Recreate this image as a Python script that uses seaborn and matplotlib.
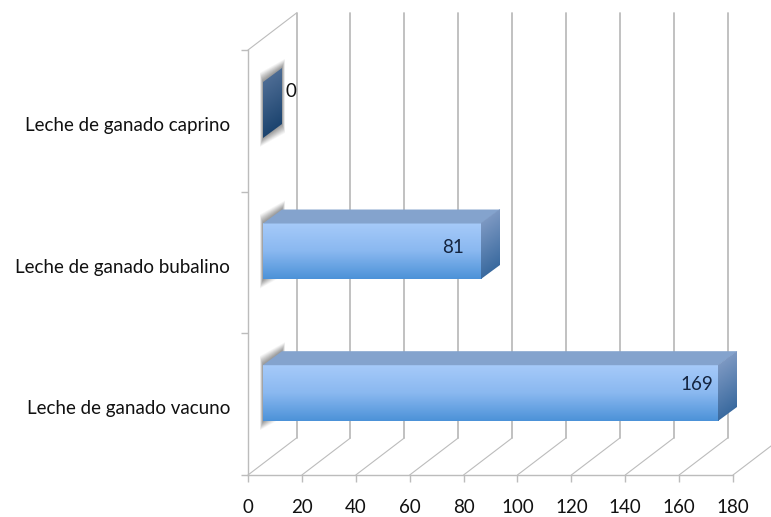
import numpy as np
import matplotlib
matplotlib.use("Agg")
import matplotlib.pyplot as plt
import seaborn as sns
from matplotlib.colors import LinearSegmentedColormap
from matplotlib.patches import Polygon
from matplotlib.transforms import Affine2D, IdentityTransform, blended_transform_factory

# Milk production by livestock type
categories = ["Leche de ganado caprino", "Leche de ganado bubalino", "Leche de ganado vacuno"]
values = [0, 81, 169]
x_ticks = [0, 20, 40, 60, 80, 100, 120, 140, 160, 180]

# Label placement relative to the end of each bar's axis position, in pixels
label_shift = [(43, 29), (-13, 15), (-7, 20)]

GRID = "#bcbcbc"
FACE = ["#a6caf9", "#8ab8f0", "#4c92d8"]
SIDE = ["#7c98c2", "#3a6a9f"]
SIDE_EMPTY = ["#4d6c94", "#1c446f"]
TOP = "#84a3cd"
WALL = (48.5, 37)   # depth of the chart box, in pixels
BAR_SHIFT = (15, 11)  # where the bar's front sits inside the box
BAR_DEPTH = (19, 14)
FONT_SIZE = 13.5

sns.set_theme(style="white")
plt.rcParams["font.family"] = ["Lato", "DejaVu Sans"]

fig = plt.figure(figsize=(7.71, 5.17), dpi=100)
ax = fig.add_axes([248 / 771, 42 / 517, 485 / 771, 425 / 517])

data_x = np.array(values)
sns.barplot(x=data_x, y=categories, order=categories, orient="h", width=0.395,
            color=FACE[1], ax=ax, zorder=4, saturation=1)
ax.set_xlim(0, 180)
ax.set_ylim(2.5, -0.5)
ax.set_autoscale_on(False)
ax.patch.set_visible(False)

# Axis lines and ticks on the front edge of the box
for side in ("top", "right"):
    ax.spines[side].set_visible(False)
for side in ("left", "bottom"):
    ax.spines[side].set_color(GRID)
    ax.spines[side].set_linewidth(1)
ax.set_xticks(x_ticks)
ax.set_xticklabels([str(t) for t in x_ticks])
ax.set_yticks([-0.5, 0.5, 1.5, 2.5], minor=True)
ax.tick_params(axis="x", which="major", length=5, width=1, color=GRID, pad=12.5,
               labelsize=FONT_SIZE, labelcolor="#111111", bottom=True)
ax.tick_params(axis="y", which="major", length=0, pad=13, labelsize=FONT_SIZE, labelcolor="#111111", left=False)
ax.tick_params(axis="y", which="minor", length=5, width=1, color=GRID, left=True)
ax.set_xlabel("")
ax.set_ylabel("")
for lab in ax.get_yticklabels():
    lab.set_transform(lab.get_transform() + Affine2D().translate(0, -3))

data_tr = ax.transData
shift = Affine2D().translate(*WALL)
blend = blended_transform_factory(ax.transData, ax.transAxes)

# Back wall gridlines and the floor lines that lead to them
for t in x_ticks:
    ax.plot([t, t], [0, 1], transform=blend + shift, color=GRID, lw=1.3, clip_on=False, zorder=1)
    start = blend.transform((t, 0))
    ax.plot([start[0], start[0] + WALL[0]], [start[1], start[1] + WALL[1]],
            transform=IdentityTransform(), color=GRID, lw=0.8, clip_on=False, zorder=1)
corner = blend.transform((0, 1))
ax.plot([corner[0], corner[0] + WALL[0]], [corner[1], corner[1] + WALL[1]],
        transform=IdentityTransform(), color=GRID, lw=0.8, clip_on=False, zorder=1)


def gradient_face(origin, du, dv, colours, zorder):
    """Paint a vertical colour ramp on the parallelogram spanned by du and dv."""
    cmap = LinearSegmentedColormap.from_list("ramp", colours[::-1])
    ramp = np.linspace(0, 1, 128).reshape(-1, 1)
    skew = Affine2D.from_values(du[0], du[1], dv[0], dv[1], origin[0], origin[1])
    ax.imshow(ramp, cmap=cmap, extent=(0, 1, 0, 1), origin="lower", aspect="auto",
              interpolation="bilinear", transform=skew, clip_on=False, zorder=zorder)


for i, (patch, value) in enumerate(zip(ax.patches, values)):
    y0 = patch.get_y()
    y1 = y0 + patch.get_height()
    left_px = data_tr.transform((0, y1)) + BAR_SHIFT
    right_px = data_tr.transform((value, y1)) + BAR_SHIFT
    height = data_tr.transform((0, y0))[1] - data_tr.transform((0, y1))[1]
    dx, dy = BAR_DEPTH

    # Soft shadow behind the bar's near end
    for grow, alpha in zip([9, 8, 7, 6, 5, 4, 3, 2, 1], [0.07, 0.08, 0.1, 0.11, 0.12, 0.13, 0.14, 0.15, 0.15]):
        side_pad = grow * 0.33
        pts = [(left_px[0] - side_pad, left_px[1] - grow),
               (left_px[0] + dx + side_pad, left_px[1] + dy - grow),
               (left_px[0] + dx + side_pad, left_px[1] + dy + height + grow),
               (left_px[0] - side_pad, left_px[1] + height + grow)]
        ax.add_patch(Polygon(pts, closed=True, transform=IdentityTransform(), facecolor="#707070",
                             edgecolor="none", alpha=alpha, clip_on=False, zorder=2))

    patch.set_visible(False)
    if value > 0:
        gradient_face(left_px, (right_px[0] - left_px[0], 0), (0, height), FACE, 4)
        top = [(left_px[0], left_px[1] + height), (right_px[0], left_px[1] + height),
               (right_px[0] + dx, left_px[1] + height + dy), (left_px[0] + dx, left_px[1] + height + dy)]
        ax.add_patch(Polygon(top, closed=True, transform=IdentityTransform(), facecolor=TOP,
                             edgecolor="none", clip_on=False, zorder=4))
        gradient_face(right_px, (dx, dy), (0, height), SIDE, 4)
    else:
        gradient_face(right_px, (dx, dy), (0, height), SIDE_EMPTY, 4)

    ax.annotate(str(value), xy=(value, i), xycoords="data", xytext=(label_shift[i][0] * 0.72, label_shift[i][1] * 0.72),
                textcoords="offset points", ha="center", va="center", fontsize=FONT_SIZE,
                color="#111111" if value == 0 else "#14243f", annotation_clip=False, zorder=6)

fig.savefig("out.png", dpi=100, facecolor="white")
